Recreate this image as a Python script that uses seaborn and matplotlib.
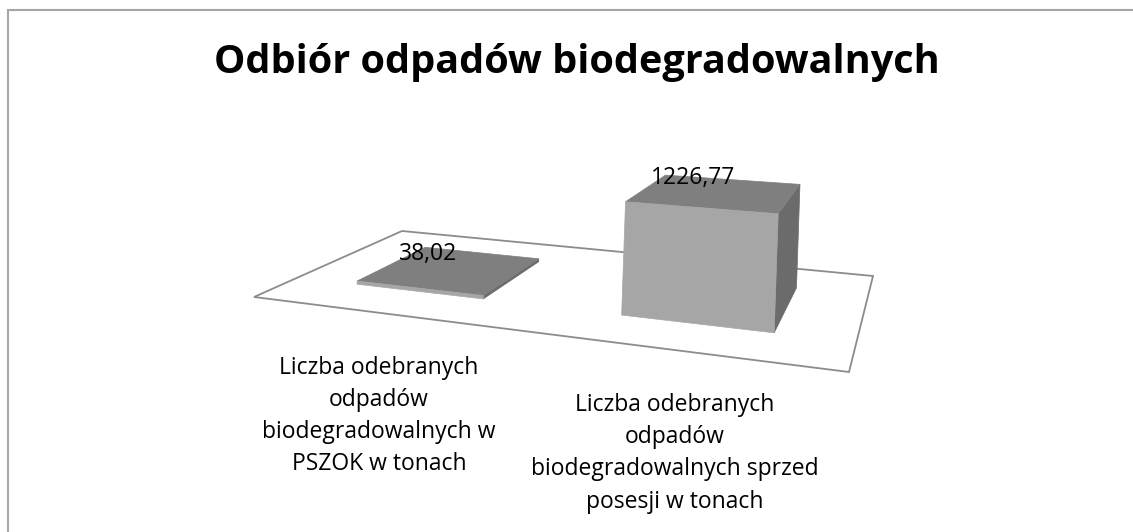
import numpy as np
import pandas as pd
import seaborn as sns
import matplotlib.pyplot as plt
from matplotlib.patches import Polygon

# --- Data ---
categories = [
    "Liczba odebranych\nodpadów\nbiodegradowalnych w\nPSZOK w tonach",
    "Liczba odebranych\nodpadów\nbiodegradowalnych sprzed\nposesji w tonach",
]
values = [38.02, 1226.77]
value_labels = ["38,02", "1226,77"]
title = "Odbiór odpadów biodegradowalnych"

df = pd.DataFrame({"category": categories, "value": values, "label": value_labels})

# --- Style ---
sns.set_theme(style="white")
plt.rcParams['font.family'] = ['Open Sans', 'DejaVu Sans']

W, H = 1133, 532
fig = plt.figure(figsize=(W / 100, H / 100), dpi=100)
ax = fig.add_axes([0, 0, 1, 1])
ax.set_xlim(0, W)
ax.set_ylim(H, 0)
ax.axis('off')
sns.despine(ax=ax, left=True, bottom=True)

# --- 3D floor projection (perspective, Excel-like) ---
# world floor: X across categories [0, n], Y depth [0, 1]
n = len(df)
floor_world = [(0, 0), (n, 0), (0, 1), (n, 1)]
floor_px = [(254, 297), (849, 372), (402, 231), (873, 276)]

A, b = [], []
for (X, Y), (x, y) in zip(floor_world, floor_px):
    A.append([X, Y, 1, 0, 0, 0, -X * x, -Y * x]); b.append(x)
    A.append([0, 0, 0, X, Y, 1, -X * y, -Y * y]); b.append(y)
h = np.linalg.solve(np.array(A, float), np.array(b, float))

k_z = 0.088    # pixels per ton at floor origin
tilt = 0.003   # slight lean of vertical edges


def proj(X, Y, Z=0.0):
    w = h[6] * X + h[7] * Y + 1
    x = h[0] * X + h[1] * Y + h[2] + tilt * Z
    y = h[3] * X + h[4] * Y + h[5] - k_z * Z
    return x / w, y / w


# floor
ax.add_patch(Polygon([proj(0, 0), proj(n, 0), proj(n, 1), proj(0, 1)], closed=True,
                     facecolor='white', edgecolor='#8c8c8c', linewidth=1.3, zorder=1))

front_c, top_c, side_c = '#a6a6a6', '#7f7f7f', '#6b6b6b'
bw, y0, y1 = 0.5, 0.25, 0.75

for i, row in df.iterrows():
    x0, x1, z = i + (1 - bw) / 2, i + (1 + bw) / 2, row['value']
    faces = [
        ([proj(x1, y0, 0), proj(x1, y1, 0), proj(x1, y1, z), proj(x1, y0, z)], side_c),
        ([proj(x0, y0, z), proj(x1, y0, z), proj(x1, y1, z), proj(x0, y1, z)], top_c),
        ([proj(x0, y0, 0), proj(x1, y0, 0), proj(x1, y0, z), proj(x0, y0, z)], front_c),
    ]
    for pts, c in faces:
        ax.add_patch(Polygon(pts, closed=True, facecolor=c, edgecolor=c,
                             linewidth=0.5, zorder=2 + i))
    # data label
    ax.annotate(row['label'], proj(i + 0.5, 0.5, z), xytext=(-24, 15),
                textcoords='offset pixels', ha='center', va='center',
                fontsize=16.5, color='black', zorder=10)
    # category label under the front edge
    ax.annotate(row['category'], proj(i + 0.5, 0, 0), xytext=(-2, -43),
                textcoords='offset pixels', ha='center', va='top',
                fontsize=16.5, linespacing=1.45, color='black', zorder=10)

# title
ax.text(577, 63, title, ha='center', va='center', fontsize=28.5,
        fontweight='bold', color='black')

# chart frame (top and left edges visible)
ax.plot([8, 8, W + 10], [H + 10, 10, 10], color='#a6a6a6', linewidth=1.5,
        solid_joinstyle='miter', clip_on=False)

plt.savefig('out.png', dpi=100)
